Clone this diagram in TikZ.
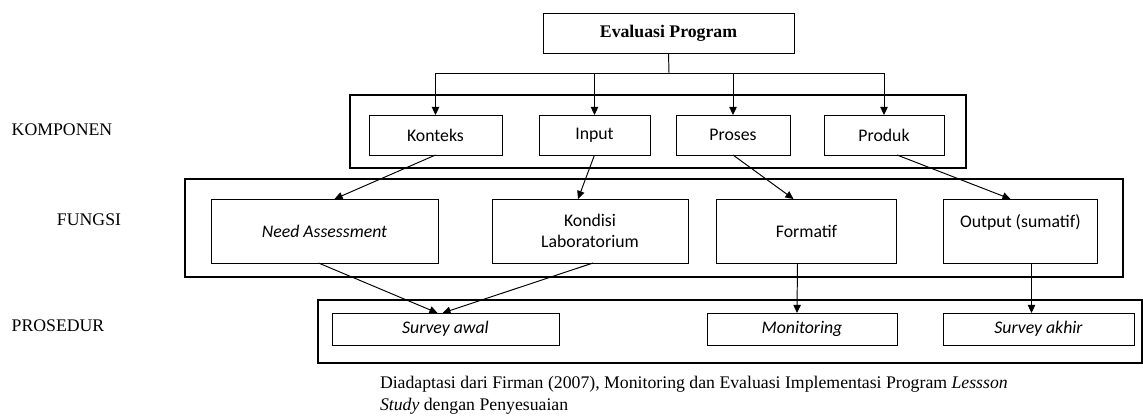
\documentclass[tikz,border=0pt]{standalone}
\usepackage{fontspec}
\setmainfont{Liberation Serif}
\newfontfamily\boxfont{Carlito}
\usetikzlibrary{arrows.meta,calc}

\begin{document}
\begin{tikzpicture}[
    x=0.62pt, y=-0.62pt, % 1 unidade = 1 pixel da figura
    line width=0.6pt,
    every node/.style={inner sep=0pt, outer sep=0pt},
    size/.style 2 args={minimum width=#1*0.62pt, minimum height=#2*0.62pt},
    frame/.style={rectangle, draw, line width=0.7pt}, % Estilo para os grupos
    item/.style={rectangle, draw, align=center, font=\boxfont\fontsize{11}{13}\selectfont}, % Estilo para as caixas
    tag/.style={font=\fontsize{11}{13}\selectfont}, % Estilo para os rotulos
    link/.style={-{Triangle[length=5pt,width=4.6pt]}}
]
\useasboundingbox (0,0) rectangle (1143,419);

% grupos
\node[frame, size={616}{73}] (komponen) at (658,131.5) {};
\node[frame, size={938}{98}] (fungsi) at (654,228) {};
\node[frame, size={824}{63}] (prosedur) at (730,331.5) {};

% rotulos
\node[tag] (lblkomp) at (62,130) {KOMPONEN};
\node[tag] (lblfung) at (89,220) {FUNGSI};
\node[tag] (lblpros) at (58,326) {PROSEDUR};

% topo
\node[item, size={251}{40}, font=\bfseries\fontsize{11}{13}\selectfont] (evaluasi) at (668.5,33) {Evaluasi Program};

% komponen
\node[item, size={133}{40}] (konteks) at (435.5,135) {Konteks};
\node[item, size={111}{40}] (input) at (594.5,135) {Input};
\node[item, size={114}{40}] (proses) at (733,135) {Proses};
\node[item, size={120}{40}] (produk) at (884,135) {Produk};

% fungsi
\node[item, size={227}{64}] (need) at (324.5,231) {\itshape Need Assessment};
\node[item, size={196}{64}] (kondisi) at (590,231) {Kondisi\\Laboratorium};
\node[item, size={180}{64}] (formatif) at (806.5,231) {Formatif};
\node[item, size={154}{64}] (output) at (1020.5,231) {Output (sumatif)\\\mbox{}};

% prosedur
\node[item, size={227}{32}] (awal) at (445.5,329) {\itshape Survey awal};
\node[item, size={190}{32}] (monitoring) at (802,329) {\itshape Monitoring};
\node[item, size={191}{32}] (akhir) at (1038.5,329) {\itshape Survey akhir};

% fonte
\node[tag, anchor=north west, align=left, font=\fontsize{11}{13.6}\selectfont] (fonte) at (380,376)
    {Diadaptasi dari Firman (2007), Monitoring dan Evaluasi Implementasi Program \textit{Lessson}\\
     \textit{Study} dengan Penyesuaian};

% ligacoes
\coordinate (split) at (669,73);
\draw (evaluasi.south) -- (split);
\draw (konteks.north |- split) -- (produk.north |- split);
\foreach \n in {konteks,input,proses,produk}
    \draw[link] (\n.north |- split) -- (\n.north);

\draw[link] (konteks.south) -- ($(need.north)+(10,0)$);
\draw[link] (input.south) -- ($(kondisi.north)+(-12,0)$);
\draw[link] (proses.south) -- ($(formatif.north)+(-13,0)$);
\draw[link] ($(produk.south)+(13,0)$) -- ($(output.north)+(-10,0)$);

\draw[link] ($(need.south)+(-6,0)$) -- ($(awal.north)+(-8,0)$);
\draw[link] ($(kondisi.south)+(3,0)$) -- ($(awal.north)+(-3,0)$);
\draw[link] ($(formatif.south)+(-9,0)$) -- ($(monitoring.north)+(-5,0)$);
\draw[link] ($(output.south)+(11,0)$) -- ($(akhir.north)+(-7,0)$);
\end{tikzpicture}
\end{document}
